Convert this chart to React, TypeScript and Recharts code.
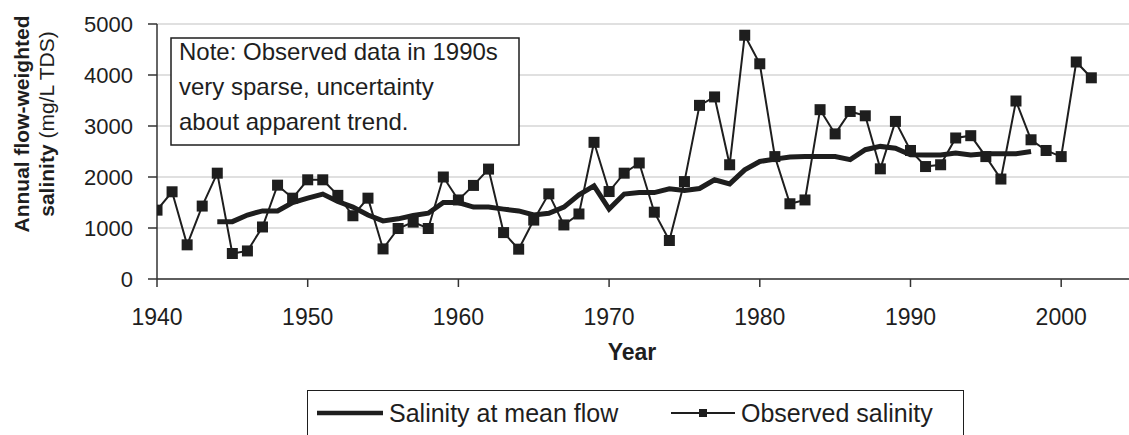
import React from 'react';
import { LineChart, Line, XAxis, YAxis, CartesianGrid, Legend, Customized } from 'recharts';

const FONT = "'Liberation Sans', Arial, Helvetica, sans-serif";
const INK = '#1e1e1e';

const years = [
  1940, 1941, 1942, 1943, 1944, 1945, 1946, 1947, 1948, 1949,
  1950, 1951, 1952, 1953, 1954, 1955, 1956, 1957, 1958, 1959,
  1960, 1961, 1962, 1963, 1964, 1965, 1966, 1967, 1968, 1969,
  1970, 1971, 1972, 1973, 1974, 1975, 1976, 1977, 1978, 1979,
  1980, 1981, 1982, 1983, 1984, 1985, 1986, 1987, 1988, 1989,
  1990, 1991, 1992, 1993, 1994, 1995, 1996, 1997, 1998, 1999,
  2000, 2001, 2002,
];

const observedSalinity = [
  1350, 1710, 670, 1430, 2075, 500, 550, 1020, 1840, 1585,
  1945, 1945, 1640, 1240, 1585, 590, 990, 1115, 990, 2000,
  1550, 1835, 2155, 910, 585, 1155, 1670, 1060, 1275, 2680,
  1715, 2075, 2275, 1310, 755, 1910, 3405, 3570, 2240, 4780,
  4220, 2400, 1475, 1550, 3320, 2845, 3285, 3200, 2160, 3090,
  2520, 2205, 2240, 2765, 2810, 2400, 1960, 3490, 2730, 2520,
  2400, 4255, 3945,
];

const meanFlowSalinity = [
  null, null, null, null, 1125, 1125, 1255, 1335, 1335, 1500,
  1585, 1665, 1520, 1410, 1255, 1140, 1180, 1245, 1290, 1500,
  1500, 1410, 1410, 1370, 1335, 1255, 1290, 1410, 1650, 1825,
  1370, 1665, 1695, 1695, 1770, 1735, 1775, 1945, 1865, 2140,
  2305, 2350, 2390, 2400, 2400, 2400, 2340, 2535, 2600, 2565,
  2435, 2430, 2430, 2470, 2430, 2455, 2455, 2455, 2500, null,
  null, null, null,
];

const xTicks = [1940, 1950, 1960, 1970, 1980, 1990, 2000];
const yTicks = [0, 1000, 2000, 3000, 4000, 5000];

const seriesNames = ['Salinity at mean flow', 'Observed salinity'];
const noteLines = [
  'Note: Observed data in 1990s',
  'very sparse, uncertainty',
  'about apparent trend.',
];

const data = years.map((year, i) => ({
  year,
  mean: meanFlowSalinity[i],
  obs: observedSalinity[i],
}));

const Annotations = () => (
  <g>
    <text
      transform="translate(29,124) rotate(-90)"
      textAnchor="middle"
      fontFamily={FONT}
      fontSize={21}
      fontWeight="bold"
      fill={INK}
    >
      Annual flow-weighted
    </text>
    <text
      transform="translate(54,124) rotate(-90)"
      textAnchor="middle"
      fontFamily={FONT}
      fontSize={21}
      fill={INK}
    >
      <tspan fontWeight="bold">salinity</tspan>
      <tspan> (mg/L TDS)</tspan>
    </text>
    <text x={632} y={360} textAnchor="middle" fontFamily={FONT} fontSize={23} fontWeight="bold" fill={INK}>
      Year
    </text>
    <rect x={171} y={38} width={348} height={107} fill="#fff" stroke={INK} strokeWidth={1.5} />
    {noteLines.map((t, i) => (
      <text key={t} x={179} y={60 + i * 35} fontFamily={FONT} fontSize={24} fill={INK}>
        {t}
      </text>
    ))}
  </g>
);

const LegendBox = () => (
  <div
    style={{
      width: 657,
      height: 70,
      border: `1.5px solid ${INK}`,
      boxSizing: 'border-box',
      background: '#fff',
    }}
  >
    <svg width={654} height={67} style={{ display: 'block' }}>
      <line x1={9} x2={75} y1={22} y2={22} stroke={INK} strokeWidth={4.5} />
      <text x={81} y={31} fontFamily={FONT} fontSize={25} fill={INK}>
        {seriesNames[0]}
      </text>
      <line x1={363} x2={427} y1={22} y2={22} stroke={INK} strokeWidth={2} />
      <rect x={391} y={18} width={8} height={8} fill={INK} />
      <text x={433} y={31} fontFamily={FONT} fontSize={25} fill={INK}>
        {seriesNames[1]}
      </text>
    </svg>
  </div>
);

const squareDot = (p: any) => (
  <rect key={`sq-${p.index}`} x={p.cx - 5.5} y={p.cy - 5.5} width={11} height={11} fill={INK} />
);

export default function App() {
  return (
    <div
      style={{
        position: 'absolute',
        left: 0,
        top: 0,
        width: 1129,
        height: 435,
        overflow: 'hidden',
        background: '#fff',
      }}
    >
      <LineChart width={1129} height={435} data={data} margin={{ top: 24, right: 0, bottom: 0, left: 0 }}>
        <CartesianGrid vertical={false} stroke="#d6d6d6" strokeWidth={1.5} />
        <XAxis
          dataKey="year"
          type="number"
          domain={[1940, 2004.5]}
          ticks={xTicks}
          allowDataOverflow
          height={156}
          tickSize={8}
          tickMargin={22}
          axisLine={{ stroke: '#333', strokeWidth: 1.5 }}
          tickLine={{ stroke: '#333', strokeWidth: 1.5 }}
          tick={{ fontFamily: FONT, fontSize: 23, fill: INK }}
        />
        <YAxis
          domain={[0, 5000]}
          ticks={yTicks}
          width={157}
          tickSize={9}
          tickMargin={15}
          axisLine={{ stroke: '#333', strokeWidth: 1.5 }}
          tickLine={{ stroke: '#333', strokeWidth: 1.5 }}
          tick={{ fontFamily: FONT, fontSize: 22, fill: INK }}
        />
        <Line
          type="linear"
          dataKey="mean"
          name={seriesNames[0]}
          stroke={INK}
          strokeWidth={5}
          dot={false}
          activeDot={false}
          isAnimationActive={false}
        />
        <Line
          type="linear"
          dataKey="obs"
          name={seriesNames[1]}
          stroke={INK}
          strokeWidth={2}
          dot={squareDot}
          activeDot={false}
          isAnimationActive={false}
        />
        <Customized component={Annotations} />
        <Legend
          layout="horizontal"
          verticalAlign="middle"
          align="center"
          content={<LegendBox />}
          wrapperStyle={{ left: 307, top: 390, width: 657, height: 70 }}
        />
      </LineChart>
    </div>
  );
}
